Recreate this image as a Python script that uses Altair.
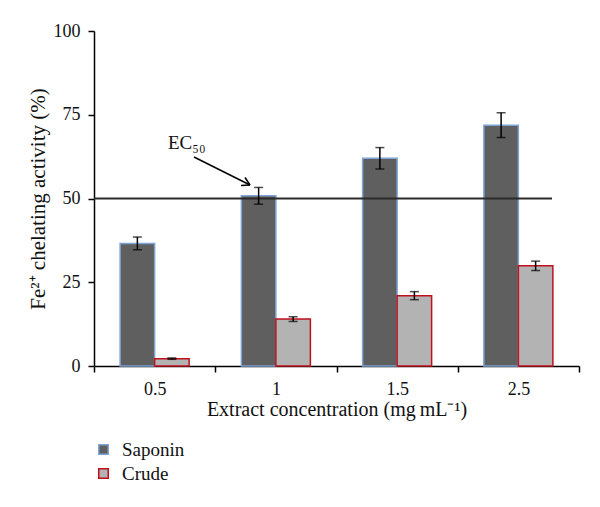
import altair as alt
import pandas as pd

categories = ["0.5", "1", "1.5", "2.5"]
saponin = [36.6, 50.8, 62.0, 71.9]
saponin_err = [1.9, 2.5, 3.2, 3.7]
crude = [2.2, 14.0, 21.0, 29.9]
crude_err = [0.2, 0.7, 1.2, 1.4]
series = ["Saponin", "Crude"]

rows = []
for c, v, e in zip(categories, saponin, saponin_err):
    rows.append({"conc": c, "series": "Saponin", "value": v, "lo": v - e, "hi": v + e})
for c, v, e in zip(categories, crude, crude_err):
    rows.append({"conc": c, "series": "Crude", "value": v, "lo": v - e, "hi": v + e})
df = pd.DataFrame(rows)

FONT = "Liberation Serif"
W, H = 485, 335

xenc = alt.X("conc:N", sort=categories,
             scale=alt.Scale(paddingInner=0, paddingOuter=0),
             axis=alt.Axis(title="Extract concentration (mg\u2009mL\u207b\u00b9)", labelAngle=0,
                           tickBand="extent", tickSize=6, labelPadding=8,
                           labelFontSize=18, titleFontSize=20, titlePadding=1))
xoff = alt.XOffset("series:N", sort=series,
                   scale=alt.Scale(paddingInner=0, paddingOuter=0.757))

bars = alt.Chart(df).mark_bar(strokeWidth=1.5).encode(
    x=xenc,
    xOffset=xoff,
    y=alt.Y("value:Q", scale=alt.Scale(domain=[0, 100]),
            axis=alt.Axis(values=[0, 25, 50, 75, 100], title="Fe\u00b2\u207a chelating activity (%)",
                          grid=False, tickSize=6, labelPadding=8, titlePadding=5,
                          labelFontSize=18, titleFontSize=21)),
    fill=alt.Fill("series:N", sort=series,
                  scale=alt.Scale(domain=series, range=["#5f5f5f", "#b3b3b3"]),
                  legend=alt.Legend(title=None, orient="none", legendX=0, legendY=409,
                                    symbolType="square", symbolSize=90, symbolStrokeWidth=1.5,
                                    labelFont=FONT, labelFontSize=19, labelColor="#111",
                                    labelOffset=9, rowPadding=4, padding=0)),
    stroke=alt.Stroke("series:N", sort=series,
                      scale=alt.Scale(domain=series, range=["#7ea3d4", "#c0101c"]),
                      legend=None),
)

err = alt.Chart(df).mark_rule(color="black", strokeWidth=1.5).encode(
    x=alt.X("conc:N", sort=categories), xOffset=xoff,
    y="lo:Q", y2="hi:Q")
caps_lo = alt.Chart(df).mark_tick(color="black", thickness=1.5, size=9).encode(
    x=alt.X("conc:N", sort=categories), xOffset=xoff, y="lo:Q")
caps_hi = alt.Chart(df).mark_tick(color="black", thickness=1.5, size=9).encode(
    x=alt.X("conc:N", sort=categories), xOffset=xoff, y="hi:Q")

ec_df = pd.DataFrame({"ec": [50]})
ec_line = alt.Chart(ec_df).mark_rule(color="#2b2b2b", strokeWidth=2).encode(
    y="ec:Q", x=alt.value(0), x2=alt.value(458))

ann_text = alt.Chart(ec_df).mark_text(text="EC\u2085\u2080", font=FONT, fontSize=19,
                                      align="left", baseline="middle", color="#111").encode(
    x=alt.value(74), y=alt.value(112))
arrow = alt.Chart(ec_df).mark_rule(color="black", strokeWidth=1.5).encode(
    x=alt.value(100), y=alt.value(126), x2=alt.value(156), y2=alt.value(154))
head1 = alt.Chart(ec_df).mark_rule(color="black", strokeWidth=1.5).encode(
    x=alt.value(151), y=alt.value(146.5), x2=alt.value(156), y2=alt.value(154))
head2 = alt.Chart(ec_df).mark_rule(color="black", strokeWidth=1.5).encode(
    x=alt.value(147), y=alt.value(154.5), x2=alt.value(156), y2=alt.value(154))

chart = alt.layer(bars, ec_line, err, caps_lo, caps_hi, ann_text, arrow, head1, head2).properties(
    width=W, height=H,
    autosize=alt.AutoSizeParams(type="none"),
    padding={"left": 86, "top": 23, "right": 10, "bottom": 125},
).configure_view(stroke=None).configure_axis(
    labelFont=FONT, titleFont=FONT,
    titleFontWeight="normal", labelColor="#111", titleColor="#111",
    domainColor="black", tickColor="black", domainWidth=1.5, tickWidth=1.5,
)

chart.save("out.html", embed_options={"renderer": "svg", "actions": False})
